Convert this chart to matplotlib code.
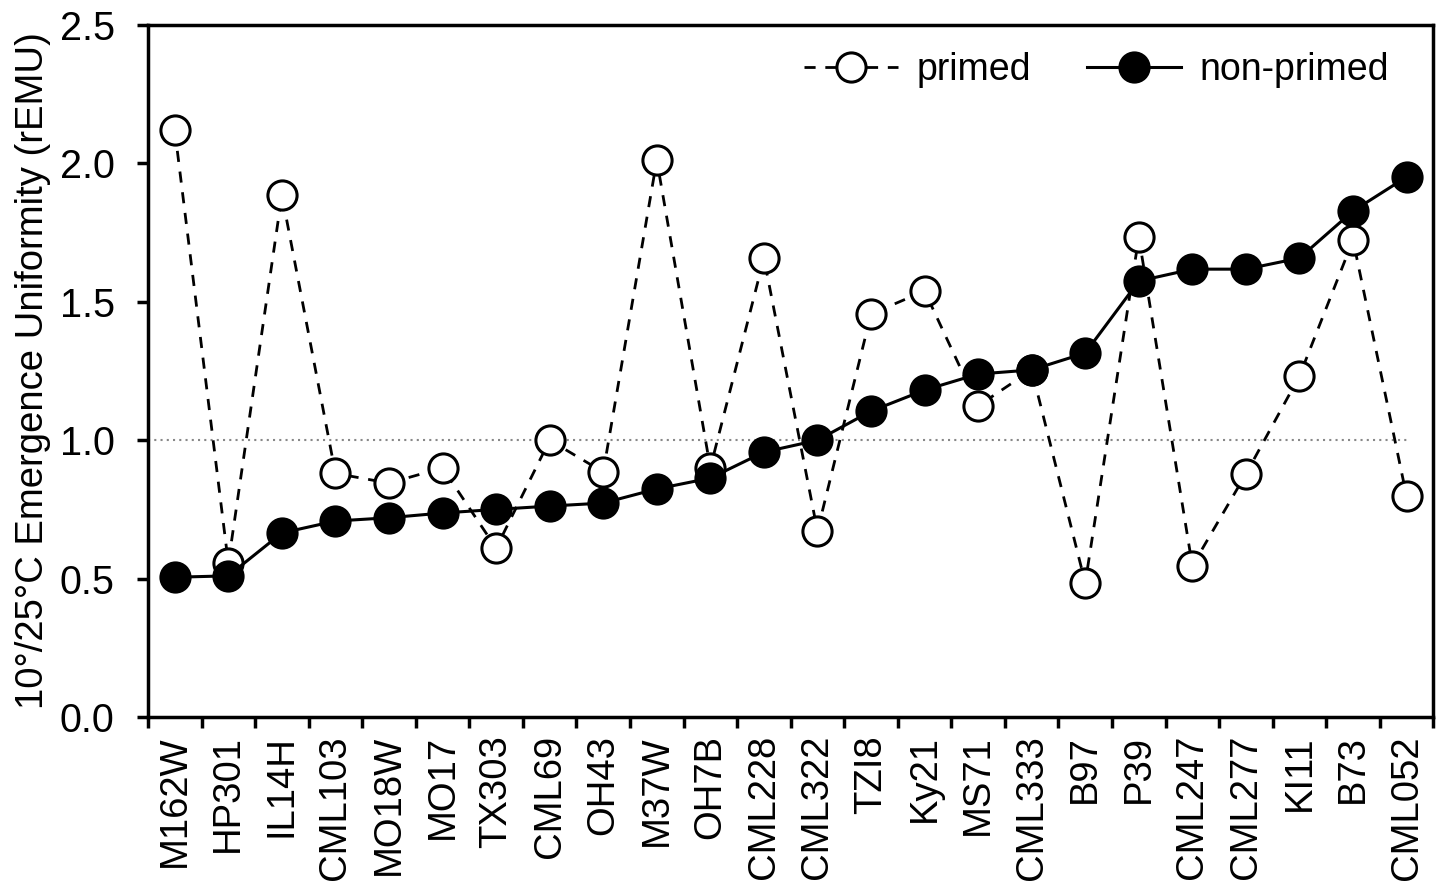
import matplotlib

matplotlib.use("Agg")
import matplotlib.pyplot as plt
import numpy as np

lines = ["M162W", "HP301", "IL14H", "CML103", "MO18W", "MO17", "TX303", "CML69",
         "OH43", "M37W", "OH7B", "CML228", "CML322", "TZI8", "Ky21", "MS71",
         "CML333", "B97", "P39", "CML247", "CML277", "KI11", "B73", "CML052"]
primed = [2.12, 0.556, 1.886, 0.88, 0.845, 0.90, 0.61, 1.0,
          0.885, 2.012, 0.90, 1.658, 0.672, 1.456, 1.539, 1.124,
          1.254, 0.484, 1.734, 0.546, 0.878, 1.232, 1.723, 0.798]
non_primed = [0.505, 0.51, 0.665, 0.708, 0.72, 0.737, 0.75, 0.762,
              0.773, 0.824, 0.863, 0.957, 1.0, 1.105, 1.181, 1.239,
              1.254, 1.315, 1.575, 1.618, 1.618, 1.658, 1.828, 1.951]
y_ticks = [0.0, 0.5, 1.0, 1.5, 2.0, 2.5]

plt.rcParams["font.family"] = ["Liberation Sans", "DejaVu Sans"]

fig = plt.figure(figsize=(14.41, 8.84), dpi=100)
ax = fig.add_axes([0.1027, 0.1889, 0.892, 0.7828])

x = np.arange(len(lines))
ax.hlines(1.0, -0.5, len(lines) - 1, colors="#888888", linestyles=(0, (1, 2)), lw=1.5, zorder=1)

ax.plot(x, primed, color="black", lw=2.0, dashes=(4, 3.5), marker="o", ms=21,
        mfc="white", mec="black", mew=2.2, label="primed", zorder=2)
ax.plot(x, non_primed, color="black", lw=2.2, marker="o", ms=21,
        mfc="black", mec="black", mew=2.2, label="non-primed", zorder=3)

ax.set_xlim(-0.5, len(lines) - 0.5)
ax.set_ylim(0, 2.5)
ax.set_yticks(y_ticks)
ax.set_yticklabels([f"{v:.1f}" for v in y_ticks], fontsize=28.5)
ax.set_xticks(x)
ax.set_xticklabels(lines, rotation=90, fontsize=27.5)
ax.set_xticks(np.arange(-0.5, len(lines)), minor=True)
ax.tick_params(axis="x", which="major", length=0, pad=13)
ax.tick_params(axis="x", which="minor", length=8, width=2.5, direction="out")
ax.tick_params(axis="y", length=8, width=2.5, direction="out", pad=16)

for s in ax.spines.values():
    s.set_linewidth(2.5)

ax.set_ylabel("10°/25°C Emergence Uniformity (rEMU)", fontsize=27.5, labelpad=6)

ax.legend(loc="upper right", ncol=2, frameon=False, fontsize=27, handlelength=2.5,
          columnspacing=1.5, handletextpad=0.5, bbox_to_anchor=(0.992, 1.01))

fig.savefig("out.png", dpi=100)
plt.close(fig)
